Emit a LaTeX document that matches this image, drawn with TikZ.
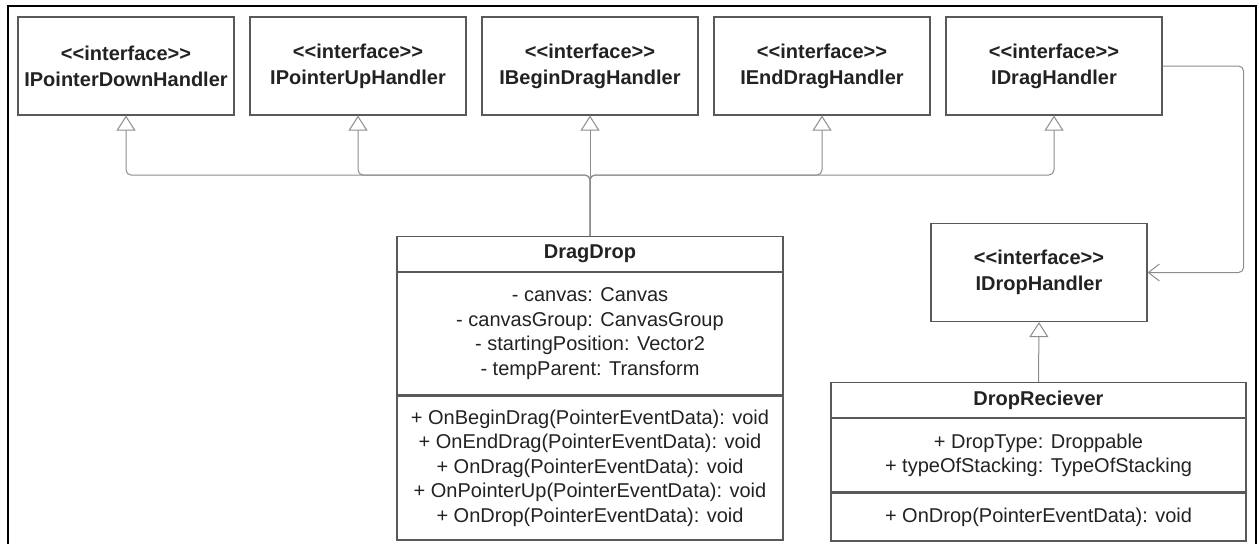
\documentclass[tikz,border=0pt]{standalone}
\usepackage{fontspec}
\setmainfont{Liberation Sans}
\usetikzlibrary{arrows.meta,positioning}
\definecolor{boxline}{HTML}{595959}
\definecolor{linkgray}{HTML}{8C8C8C}
\definecolor{txt}{HTML}{222222}

\begin{document}
\begin{tikzpicture}[x=1pt, y=-1pt,
    iface/.style={draw=boxline, line width=1.2pt, minimum width=216pt, minimum height=98pt, align=center, text=txt, font=\fontsize{20}{26}\selectfont\bfseries},
    part/.style={draw=boxline, line width=1.2pt, align=center, text=txt, inner sep=0pt, font=\fontsize{20}{24.5}\selectfont},
    realize/.style={draw=linkgray, line width=1pt, rounded corners=5pt, -{Triangle[open, length=15pt, width=19pt]}},
    assoc/.style={draw=linkgray, line width=1pt, rounded corners=5pt, -{Straight Barb[length=11pt, width=17pt]}}]
    \useasboundingbox (0,0) rectangle (1258,544);
    % Frame
    \draw[line width=2pt] (8,544) -- (8,6) -- (1256,6) -- (1256,544);

    % Interfaces
    \foreach \x/\nm/\lbl in {126/ipd/IPointerDownHandler, 358/ipu/IPointerUpHandler, 590/ibd/IBeginDragHandler, 822/ied/IEndDragHandler, 1054/idg/IDragHandler}
        \node[iface] (\nm) at (\x,66) {<{}<interface>{}>\\\lbl};
    \node[iface] (idh) at (1039,272.5) {<{}<interface>{}>\\IDropHandler};

    % DragDrop class
    \node[part, minimum width=386pt, minimum height=35pt, anchor=north, font=\fontsize{20}{24.5}\selectfont\bfseries] (drag-head) at (590,236) {DragDrop};
    \node[part, minimum width=386pt, minimum height=122pt, below=0pt of drag-head] (drag-attr) {- canvas: Canvas\\- canvasGroup: CanvasGroup\\- startingPosition: Vector2\\- tempParent: Transform};
    \node[part, minimum width=386pt, minimum height=144pt, below=0pt of drag-attr] (drag-ops) {+ OnBeginDrag(PointerEventData): void\\+ OnEndDrag(PointerEventData): void\\+ OnDrag(PointerEventData): void\\+ OnPointerUp(PointerEventData): void\\+ OnDrop(PointerEventData): void};

    % DropReciever class
    \node[part, minimum width=415pt, minimum height=35pt, anchor=north, font=\fontsize{20}{24.5}\selectfont\bfseries] (drop-head) at (1038.5,382) {DropReciever};
    \node[part, minimum width=415pt, minimum height=73pt, below=0pt of drop-head] (drop-attr) {+ DropType: Droppable\\+ typeOfStacking: TypeOfStacking};
    \node[part, minimum width=415pt, minimum height=48pt, below=0pt of drop-attr] (drop-ops) {+ OnDrop(PointerEventData): void};

    % Realizations
    \coordinate (bus) at (590,175);
    \foreach \nm in {ipd, ipu, ied, idg}
        \draw[realize] (drag-head.north) -- (bus) -| (\nm.south);
    \draw[realize] (drag-head.north) -- (ibd.south);
    \draw[realize] (drop-head.north) -- (idh.south);

    % Association
    \draw[assoc] (idg.east) -- ++(81,0) |- (idh.east);
\end{tikzpicture}
\end{document}
